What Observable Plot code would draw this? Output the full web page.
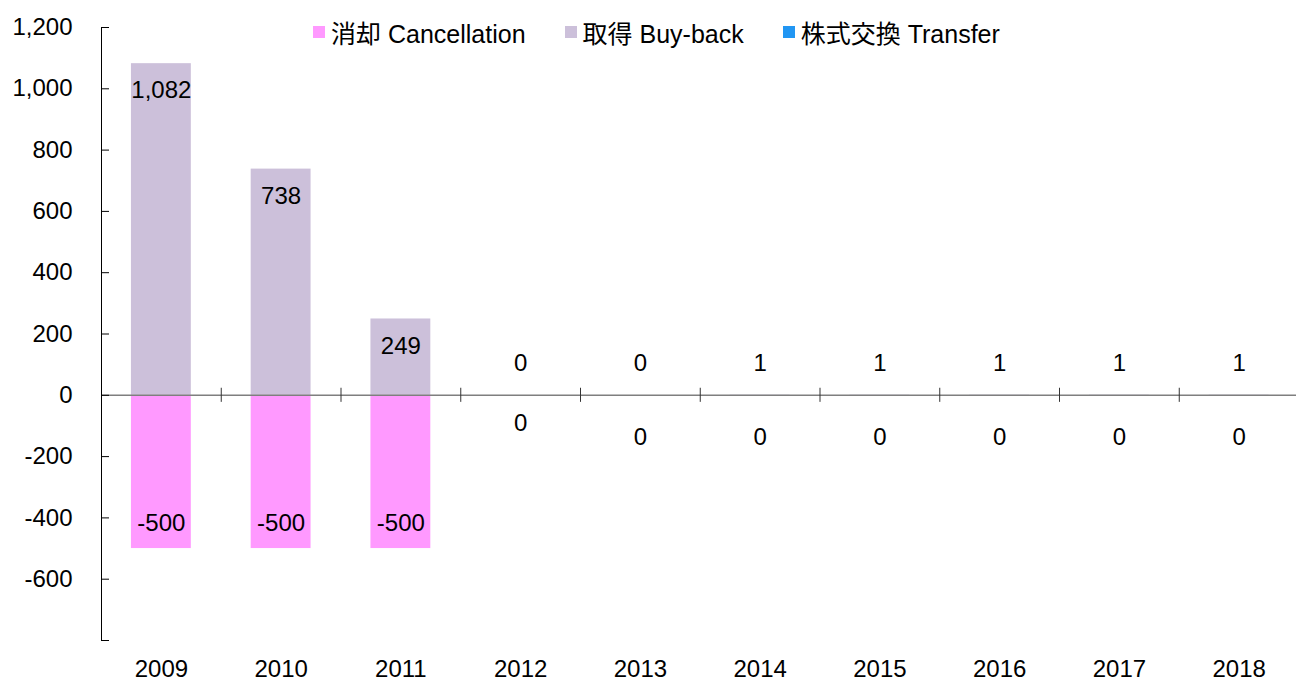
<!DOCTYPE html>
<html>
<head>
<meta charset="utf-8">
<script src="https://cdn.jsdelivr.net/npm/d3@7"></script>
<script src="https://cdn.jsdelivr.net/npm/@observablehq/plot@0.6"></script>
<style>
  html, body { margin: 0; padding: 0; background: #fff; }
  #wrap { position: relative; width: 1296px; height: 682px; font-family: "Liberation Sans", Arial, "Noto Sans CJK JP", sans-serif; }
  #legend { position: absolute; left: 313px; top: 14px; display: flex; align-items: center; font-size: 25px; color: #000; white-space: nowrap; }
  .item { display: flex; align-items: center; margin-right: 39px; }
  .sw { width: 12px; height: 12px; margin-right: 6px; }
</style>
</head>
<body>
<div id="wrap"><div id="legend"></div></div>
<script>
const years = ["2009","2010","2011","2012","2013","2014","2015","2016","2017","2018"];
const cancellation = [-500, -500, -500, 0, 0, 0, 0, 0, 0, 0];
const buyback = [1082, 738, 249, 0, 0, 1, 1, 1, 1, 1];
const transfer = [0, 0, 0, 0, 0, 0, 0, 0, 0, 0];
const seriesNames = ["消却 Cancellation", "取得 Buy-back", "株式交換 Transfer"];
const seriesColors = ["#FF99FF", "#CCC0DA", "#2196F3"];
const yTicks = [-800, -600, -400, -200, 0, 200, 400, 600, 800, 1000, 1200];

const rows = years.map((y, i) => ({year: y, cancellation: cancellation[i], buyback: buyback[i], transfer: transfer[i]}));

const fmt = d => d.toLocaleString("en-US");
const font = '"Liberation Sans", Arial, sans-serif';
const FS = 24;
const W = 1296, ML = 101;
const step = 119.75;

const chart = Plot.plot({
  width: W,
  height: 682,
  marginLeft: ML,
  marginRight: 0,
  marginTop: 27,
  marginBottom: 42,
  style: {fontFamily: font, fontSize: FS + "px", color: "#000", background: "#fff", overflow: "visible"},
  x: {domain: years, range: [ML, ML + step * years.length], round: false, paddingInner: 0.5, paddingOuter: 0.25, label: null},
  y: {domain: [-800, 1200], label: null},
  marks: [
    Plot.barY(rows, {x: "year", y1: 0, y2: "cancellation", fill: seriesColors[0]}),
    Plot.barY(rows, {x: "year", y1: 0, y2: "buyback", fill: seriesColors[1]}),
    Plot.barY(rows, {x: "year", y1: 0, y2: "transfer", fill: seriesColors[2]}),
    Plot.ruleY([0], {stroke: "#7f7f7f", strokeWidth: 1.5}),
    Plot.ruleX(years.slice(1), {x: d => d, dx: -step / 2, y1: -23, y2: 23, stroke: "#333", strokeWidth: 1}),
    // inward y ticks (8px to the right of the axis)
    Plot.tickY(yTicks, {y: d => d, insetRight: W - ML - 8, stroke: "#000", strokeWidth: 1}),
    // y tick labels
    Plot.axisY({ticks: yTicks, tickSize: 0, tickPadding: 29, tickFormat: d => d === -800 ? "" : fmt(d), fontSize: FS}),
    Plot.frame({anchor: "left", stroke: "#000", strokeWidth: 1}),
    Plot.axisX({tickSize: 0, tickPadding: 19, fontSize: FS}),
    // buy-back labels
    Plot.text(rows, {x: "year", y: "buyback", text: d => fmt(d.buyback),
      fontSize: FS, fill: "#000", filter: d => d.buyback >= 100, dy: 27}),
    Plot.text(rows, {x: "year", y: "buyback", text: d => fmt(d.buyback),
      fontSize: FS, fill: "#000", filter: d => d.buyback < 100, dy: -32}),
    // cancellation labels
    Plot.text(rows, {x: "year", y: "cancellation", text: d => fmt(d.cancellation),
      fontSize: FS, fill: "#000", filter: d => d.cancellation <= -100, dy: -25}),
    Plot.text(rows, {x: "year", y: "cancellation", text: d => fmt(d.cancellation),
      fontSize: FS, fill: "#000", filter: d => d.cancellation > -100 && d.year === "2012", dy: 28}),
    Plot.text(rows, {x: "year", y: "cancellation", text: d => fmt(d.cancellation),
      fontSize: FS, fill: "#000", filter: d => d.cancellation > -100 && d.year !== "2012", dy: 42})
  ]
});

const wrap = document.getElementById("wrap");
wrap.insertBefore(chart, wrap.firstChild);

const legend = document.getElementById("legend");
seriesNames.forEach((name, i) => {
  const item = document.createElement("div");
  item.className = "item";
  const sw = document.createElement("div");
  sw.className = "sw";
  sw.style.background = seriesColors[i];
  const t = document.createElement("span");
  t.textContent = name;
  item.appendChild(sw);
  item.appendChild(t);
  legend.appendChild(item);
});
</script>
</body>
</html>
